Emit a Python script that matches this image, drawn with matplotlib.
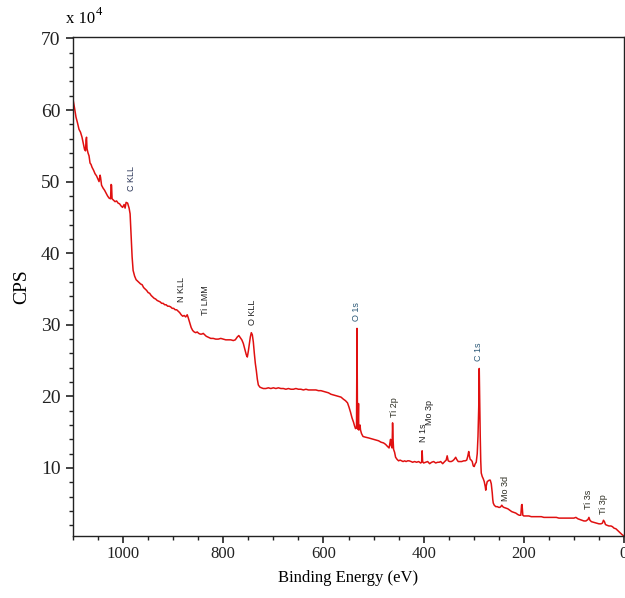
import matplotlib
matplotlib.use("Agg")
import matplotlib.pyplot as plt
from matplotlib.ticker import MultipleLocator

# Binding energy (eV) and CPS (x 10^4)
be = [1100, 1097, 1094, 1091, 1088, 1085, 1082, 1079, 1077, 1075, 1074, 1073, 1072, 1070, 1068, 1066,
      1064, 1062, 1059, 1056, 1053, 1050, 1048, 1046, 1045, 1043, 1040, 1037, 1034, 1031, 1028, 1025,
      1024, 1023, 1022, 1019, 1016, 1013, 1010, 1007, 1004, 1001, 998, 996, 994, 991, 988, 986, 984,
      982, 980, 977, 974, 971, 968, 965, 962, 959, 956, 953, 950, 947, 944, 941, 938, 935, 932, 929,
      926, 923, 920, 917, 914, 911, 908, 905, 902, 899, 896, 893, 890, 887, 884, 881, 878, 875, 872,
      870, 867, 864, 861, 858, 855, 852, 849, 846, 843, 840, 837, 834, 831, 828, 825, 820, 815, 810,
      805, 800, 795, 790, 785, 780, 776, 772, 769, 766, 763, 760, 757, 754, 752, 750, 748, 746, 744,
      742, 740, 738, 736, 734, 732, 730, 727, 724, 720, 715, 710, 705, 700, 695, 690, 685, 680, 675,
      670, 665, 660, 655, 650, 645, 640, 635, 630, 625, 620, 615, 610, 605, 600, 595, 590, 585, 580,
      575, 570, 565, 560, 556, 552, 549, 546, 543, 540, 538, 536, 534, 533.5, 533, 532.5, 532, 531,
      530, 529.5, 528, 527, 526, 524, 521, 516, 510, 505, 500, 495, 490, 485, 480, 476, 472, 469,
      467, 466, 465, 463, 462, 461, 460, 458, 456, 453, 450, 447, 444, 441, 438, 435, 432, 429, 425,
      422, 418, 414, 410, 406, 404, 403, 402, 400, 396, 392, 388, 384, 380, 376, 372, 369, 366, 362,
      358, 355, 353, 351, 348, 345, 342, 339, 336, 334, 331, 328, 324, 320, 317, 314, 312, 310, 309,
      307, 305, 303, 301, 299, 297, 295, 293, 291.5, 290, 289, 288, 287, 286, 285, 283, 281, 279, 277,
      276, 275, 273, 271, 269, 267, 265, 263, 262, 261, 259, 256, 253, 250, 248, 246, 244, 242, 240,
      236, 232, 228, 224, 220, 216, 212, 209, 206, 204.5, 203.5, 202, 200, 195, 190, 185, 180, 175,
      170, 165, 160, 155, 150, 145, 140, 135, 130, 125, 120, 115, 110, 105, 100, 96, 92, 88, 84, 80,
      76, 72, 70, 68, 65, 60, 55, 50, 46, 43, 41, 39, 37, 34, 30, 26, 23, 20, 16, 13, 10, 7, 4, 2, 0]
cps = [61.5, 60.3, 59.0, 58.2, 57.3, 56.9, 56.2, 55.2, 54.5, 54.3, 55.8, 56.2, 54.6, 54.0, 53.6, 52.6,
       52.4, 52.0, 51.6, 51.1, 50.8, 50.3, 50.0, 50.9, 50.6, 49.5, 49.1, 48.8, 48.4, 48.0, 47.7, 47.6,
       49.6, 49.5, 47.6, 47.4, 47.2, 47.3, 47.0, 46.9, 46.6, 46.4, 46.8, 46.3, 47.1, 47.0, 46.3, 45.5, 42.5,
       39.5, 37.6, 36.8, 36.3, 36.1, 35.9, 35.7, 35.6, 35.2, 35.0, 34.8, 34.5, 34.4, 34.1, 33.9, 33.7, 33.6, 33.4, 33.3,
       33.2, 33.0, 33.0, 32.8, 32.8, 32.6, 32.6, 32.5, 32.3, 32.3, 32.1, 32.1, 31.9, 31.7, 31.4, 31.2, 31.3, 31.1, 31.4,
       31.0, 30.3, 29.6, 29.2, 29.0, 28.9, 29.0, 28.8, 28.7, 28.7, 28.8, 28.6, 28.4, 28.3, 28.2, 28.1, 28.1, 28.0, 28.0,
       28.1, 28.0, 27.9, 27.9, 27.9, 27.8, 27.9, 28.3, 28.5, 28.2, 27.9, 27.4, 26.6, 25.8, 25.5, 26.3, 27.3, 28.3, 28.9,
       28.6, 27.6, 26.0, 24.6, 23.6, 22.4, 21.6, 21.3, 21.2, 21.1, 21.1, 21.2, 21.1, 21.2, 21.1, 21.2, 21.1, 21.1, 21.0,
       21.1, 21.0, 21.0, 21.1, 21.0, 21.0, 20.9, 21.0, 20.9, 20.9, 20.9, 20.9, 20.8, 20.8, 20.7, 20.6, 20.5, 20.3, 20.2,
       20.1, 20.0, 19.9, 19.6, 19.4, 19.1, 18.5, 17.8, 17.0, 16.4, 15.9, 15.5, 15.6, 22.0, 29.5, 22.5, 15.6, 15.4,
       19.0, 15.3, 15.6, 16.0, 15.3, 14.8, 14.4, 14.3, 14.2, 14.1, 14.0, 13.9, 13.8, 13.6, 13.5, 13.3, 13.0, 12.8,
       13.6, 14.0, 13.2, 12.8, 16.3, 14.0, 12.6, 12.2, 11.5, 11.2, 11.0, 11.1, 11.0, 10.9, 11.0, 10.9, 11.0, 11.0, 10.9,
       10.8, 10.9, 10.8, 10.9, 10.7, 10.8, 12.4, 10.9, 10.7, 10.8, 10.9, 10.6, 10.8, 10.9, 10.7, 10.8, 10.8, 10.9, 10.6,
       10.9, 11.1, 11.7, 11.0, 10.9, 10.9, 11.0, 11.2, 11.5, 11.2, 10.9, 10.9, 10.9, 11.0, 11.0, 11.1, 11.6, 12.3, 11.8,
       11.2, 11.1, 10.9, 10.3, 10.2, 10.6, 10.8, 12.0, 14.4, 18.5, 23.9, 19.0, 14.4, 11.0, 9.3, 8.8, 8.5, 8.1, 7.4,
       6.9, 7.5, 8.1, 8.2, 8.3, 8.3, 7.8, 6.5, 5.6, 5.1, 4.8, 4.6, 4.6, 4.5, 4.5, 4.6, 4.8, 4.6, 4.5,
       4.4, 4.3, 4.1, 3.9, 3.8, 3.7, 3.5, 3.4, 3.4, 4.8, 4.9, 3.4, 3.3, 3.3, 3.3, 3.2, 3.2, 3.2,
       3.2, 3.2, 3.1, 3.1, 3.1, 3.1, 3.1, 3.1, 3.0, 3.0, 3.0, 3.0, 3.0, 3.0, 3.0, 3.1, 2.9, 2.8, 2.7, 2.6,
       2.6, 2.8, 3.1, 2.7, 2.5, 2.4, 2.3, 2.2, 2.2, 2.3, 2.7, 2.5, 2.1, 2.0, 1.9, 1.9, 1.8, 1.6, 1.5, 1.3, 1.1, 0.9, 0.7, 0.6, 0.5]

# Peak annotations: label, binding energy, vertical centre (x 10^4)
peak_labels = ["C KLL", "N KLL", "Ti LMM", "O KLL", "O 1s", "Ti 2p", "N 1s", "Mo 3p", "C 1s", "Mo 3d", "Ti 3s", "Ti 3p"]
peak_be = [984, 883, 835, 741, 535, 459, 400, 388, 290, 236, 70, 40]
peak_y = [50.5, 35.0, 33.5, 31.8, 31.9, 18.5, 14.9, 17.7, 26.3, 7.1, 5.6, 5.0]
peak_colors = ["#2a3558", "#222222", "#222222", "#222222", "#2d5a78", "#2b2b20", "#222222", "#222222",
               "#2d5a78", "#2b2b20", "#2b2b20", "#2b2b20"]

fig = plt.figure(figsize=(6.25, 5.98), dpi=100)
ax = fig.add_axes([73 / 625, 62 / 598, 551 / 625, 499 / 598])

ax.plot(be, cps, color="#e01010", lw=1.1)

ax.set_xlim(1100, 0)
ax.set_ylim(0.5, 70.2)
ax.xaxis.set_major_locator(MultipleLocator(200))
ax.xaxis.set_minor_locator(MultipleLocator(50))
ax.yaxis.set_major_locator(MultipleLocator(10))
ax.yaxis.set_minor_locator(MultipleLocator(2))
ax.set_yticks([10, 20, 30, 40, 50, 60, 70])

serif = "Liberation Serif"
ax.tick_params(axis="both", which="major", direction="out", length=5, width=1.2, color="#222222")
ax.tick_params(axis="both", which="minor", direction="out", length=3, width=1.0, color="#222222")
ax.tick_params(axis="x", labelsize=12, pad=2)
ax.tick_params(axis="y", labelsize=14, pad=4)
for lab in ax.get_xticklabels() + ax.get_yticklabels():
    lab.set_fontfamily(serif)
    lab.set_color("#222222")

for sp in ax.spines.values():
    sp.set_color("#222222")
    sp.set_linewidth(1.0)

ax.set_xlabel("Binding Energy (eV)", fontfamily=serif, fontsize=12, labelpad=6)
ax.set_ylabel("CPS", fontfamily=serif, fontsize=14, labelpad=8)

fig.text(66 / 625, 1 - 19 / 598, "x 10", fontfamily=serif, fontsize=12, va="center", ha="left")
fig.text(96 / 625, 1 - 12 / 598, "4", fontfamily=serif, fontsize=9, va="center", ha="left")

for lab, x, y, c in zip(peak_labels, peak_be, peak_y, peak_colors):
    ax.text(x, y, lab, rotation=90, ha="center", va="center", fontsize=6.5,
            fontfamily="Liberation Sans", color=c)

fig.savefig("out.png", dpi=100)
